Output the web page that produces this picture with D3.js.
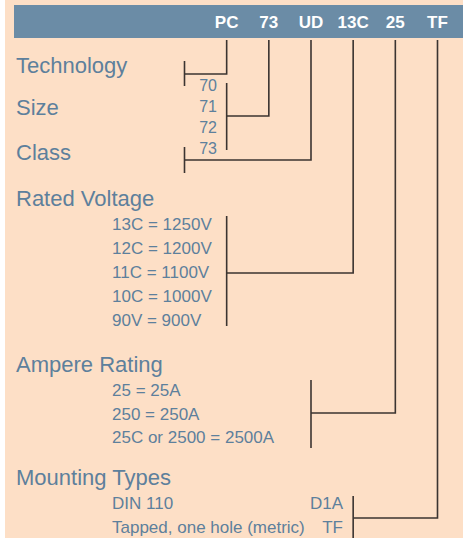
<!DOCTYPE html>
<html>
<head>
<meta charset="utf-8">
<script src="https://cdn.jsdelivr.net/npm/d3@7"></script>
<style>
  html, body { margin: 0; padding: 0; background: #fff; }
  svg { display: block; }
</style>
</head>
<body>
<svg id="chart"></svg>
<script>
// part number segments, left to right
const codes = ["PC", "73", "UD", "13C", "25", "TF"];
const sections = ["Technology", "Size", "Class", "Rated Voltage", "Ampere Rating", "Mounting Types"];
const sizeOptions = ["70", "71", "72", "73"];
const voltageOptions = ["13C = 1250V", "12C = 1200V", "11C = 1100V", "10C = 1000V", "90V = 900V"];
const ampereOptions = ["25 = 25A", "250 = 250A", "25C or 2500 = 2500A"];
const mountingOptions = ["DIN 110", "Tapped, one hole (metric)"];
const mountingCodes = ["D1A", "TF"];

const width = 463, height = 538;
const bg = "#fddfc6", head = "#6b8ca6", ink = "#5d809c", wire = "#3b3431";

let svg = d3.select("#chart").attr("width", width).attr("height", height);

svg.append("rect").attr("x", 5).attr("y", 0).attr("width", width - 5).attr("height", height).attr("fill", bg);
svg.append("rect").attr("x", 14).attr("y", 5).attr("width", width - 14).attr("height", 33).attr("fill", head);

// columns: -1 is the bracket column left of the first code
let x = d3.scalePoint().domain(d3.range(-1, codes.length)).range([184.5, 437.5]);

svg.append("g").selectAll("text")
    .data(codes)
    .join("text")
    .attr("x", (d, i) => x(i))
    .attr("y", 28)
    .attr("text-anchor", "middle")
    .attr("fill", "#fff")
    .attr("font-family", "Liberation Sans, Arial, sans-serif")
    .attr("font-weight", "bold")
    .attr("font-size", 17)
    .text(d => d);

// label baseline, bracket column, bracket top/bottom, join height
let layout = [
    {label: 73,  col: -1, top: 61,  bottom: 86,  join: 74},
    {label: 115, col: 0,  top: 83,  bottom: 150, join: 116},
    {label: 160, col: -1, top: 147, bottom: 173, join: 160},
    {label: 206, col: 0,  top: 216, bottom: 326, join: 273},
    {label: 372, col: 2,  top: 380, bottom: 448, join: 413},
    {label: 485, col: 3,  top: 496, bottom: 545, join: 518}
];

svg.append("g").selectAll("text")
    .data(sections)
    .join("text")
    .attr("x", 16)
    .attr("y", (d, i) => layout[i].label)
    .attr("fill", ink)
    .attr("font-family", "Liberation Sans, Arial, sans-serif")
    .attr("font-size", 22)
    .text(d => d);

let wires = svg.append("g").attr("fill", "none").attr("stroke", wire).attr("stroke-width", 1.6);

wires.selectAll("path.lead")
    .data(layout)
    .join("path")
    .attr("class", "lead")
    .attr("d", (d, i) => "M" + x(i) + ",40V" + d.join + "H" + x(d.col));

wires.selectAll("path.bracket")
    .data(layout)
    .join("path")
    .attr("class", "bracket")
    .attr("d", d => "M" + x(d.col) + "," + d.top + "V" + d.bottom);

function optionList(list, xPos, y0, step, anchor, size) {
    svg.append("g").selectAll("text")
        .data(list)
        .join("text")
        .attr("x", xPos)
        .attr("y", (d, i) => y0 + i * step)
        .attr("text-anchor", anchor)
        .attr("fill", ink)
        .attr("font-family", "Liberation Sans, Arial, sans-serif")
        .attr("font-size", size)
        .text(d => d);
}

optionList(sizeOptions, 217, 91, 21, "end", 16);
optionList(voltageOptions, 112, 230, 24, "start", 17);
optionList(ampereOptions, 112, 396, 23.5, "start", 17);
optionList(mountingOptions, 112, 509, 24, "start", 17);
optionList(mountingCodes, 343, 509, 24, "end", 17);
</script>
</body>
</html>
